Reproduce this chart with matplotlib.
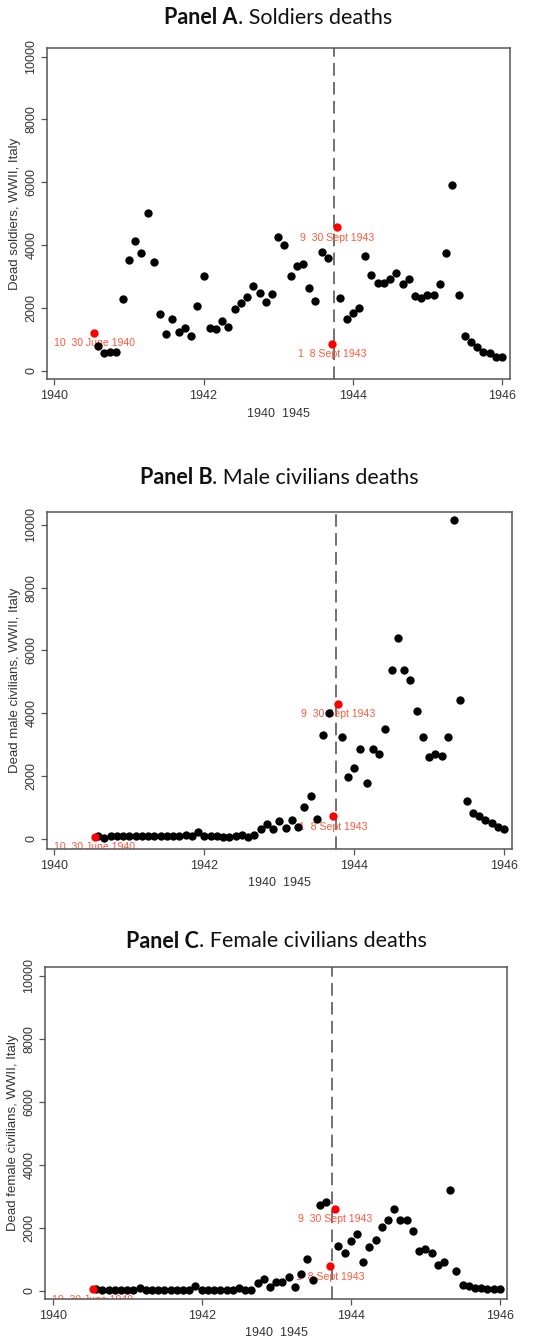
import matplotlib
matplotlib.use("Agg")
import matplotlib.pyplot as plt

W, H = 547, 1337
DPI = 100

# ---- data -------------------------------------------------------------
# month index: 1 = Jan 1940 ; plotted at x = 1940 + month/12
black_months = list(range(7, 45)) + list(range(46, 73))   # Jul 1940 .. Dec 1945 (Sept 1943 split, in red)
red_months = [6.43, 44.65, 45.45]                         # 10-30 June 1940, 1-8 Sept 1943, 9-30 Sept 1943
red_labels = ["10  30 June 1940", "1  8 Sept 1943", "9  30 Sept 1943"]

soldiers = [787, 564, 617, 617, 2288, 3543, 4128, 3756, 5011, 3469, 1819, 1170, 1638, 1234,
            1383, 1128, 2053, 3011, 1362, 1351, 1585, 1404, 1958, 2160, 2341, 2692, 2490, 2192,
            2447, 4267, 4022, 3032, 3341, 3415, 2628, 2213, 3777, 3607,
            2309, 1649, 1841, 2000, 3671, 3043, 2809, 2809, 2926, 3117, 2777, 2926, 2373, 2309,
            2415, 2415, 2766, 3745, 5916, 2405, 1107, 926, 755, 596, 575, 458, 436]
soldiers_red = [1224, 872, 4575]

male_civ = [80, 40, 90, 80, 90, 100, 100, 90, 90, 80, 90, 100, 100, 90, 140, 100, 210, 90,
            90, 80, 70, 60, 90, 110, 50, 110, 320, 470, 330, 576, 352, 608, 384, 1013, 1366,
            640, 3308, 4001,
            3254, 1985, 2273, 2870, 1771, 2870, 2710, 3489, 5388, 6400, 5367, 5047, 4065, 3233,
            2603, 2710, 2635, 3254, 10150, 4439, 1206, 811, 726, 598, 512, 384, 320]
male_civ_red = [75, 715, 4311]

female_civ = [40, 30, 10, 10, 10, 10, 20, 100, 20, 10, 10, 10, 20, 30, 30, 30, 150, 10, 10,
              10, 10, 10, 20, 80, 10, 10, 234, 372, 128, 266, 266, 447, 128, 532, 1000, 340,
              2734, 2809,
              1404, 1202, 1564, 1798, 915, 1394, 1617, 2032, 2234, 2607, 2245, 2245, 1883, 1266,
              1340, 1192, 830, 915, 3192, 638, 170, 149, 85, 74, 64, 53, 43]
female_civ_red = [43, 777, 2596]

panel_bold = ["Panel A", "Panel B", "Panel C"]
panel_rest = [". Soldiers deaths", ". Male civilians deaths", ". Female civilians deaths"]
ylabels = ["Dead soldiers, WWII, Italy", "Dead male civilians, WWII, Italy",
           "Dead female civilians, WWII, Italy"]
xlabel = "1940  1945"
xticks = [1940, 1942, 1944, 1946]
yticks = [0, 2000, 4000, 6000, 8000, 10000]
event_x = 1943.75

series = [(soldiers, soldiers_red), (male_civ, male_civ_red), (female_civ, female_civ_red)]

# ---- layout (pixel boxes: left, right, top, bottom) ----------------------
boxes = [(46.7, 509.5, 47.7, 379.3), (46.7, 511.7, 512.3, 849.0), (45.0, 507.3, 967.3, 1299.0)]
ylims = [(-264, 10280), (-320, 10400), (-263, 10267)]
title_y = [18, 478, 941]

plt.rcParams['font.family'] = ['Liberation Sans', 'DejaVu Sans']

fig = plt.figure(figsize=(W / DPI, H / DPI), dpi=DPI)
spine_col = "#555555"
tick_col = "#333333"
txt_red = "#ff5a3c"

for i, (blk, red) in enumerate(series):
    l, r, t, b = boxes[i]
    ax = fig.add_axes([l / W, 1 - b / H, (r - l) / W, (b - t) / H])
    xb = [1940 + m / 12 for m in black_months]
    xr = [1940 + m / 12 for m in red_months]
    ax.axvline(event_x, color="#666666", lw=1.3, ls=(0, (7, 3.5)), zorder=1)
    for xx, yy, lab in zip(xr, red, red_labels):
        ax.annotate(lab, (xx, yy), xytext=(0, -10.5), textcoords="offset pixels",
                    ha="center", va="center", fontsize=7.6, color=txt_red,
                    clip_on=True, zorder=2, annotation_clip=False)
    ax.scatter(xb, blk, s=36, color="black", linewidths=0, zorder=3)
    ax.scatter(xr, red, s=36, color="#ff0000", linewidths=0, zorder=4)
    ax.set_xlim(1939.898, 1946.1)
    ax.set_ylim(*ylims[i])
    ax.set_xticks(xticks)
    ax.set_xticklabels([str(v) for v in xticks])
    ax.set_yticks(yticks)
    ax.set_yticklabels([str(v) for v in yticks], rotation=90, va="center")
    ax.tick_params(axis="both", direction="out", length=4.3, width=0.9, color=spine_col,
                   labelcolor=tick_col, labelsize=9)
    ax.tick_params(axis="x", pad=3.5)
    ax.tick_params(axis="y", pad=2.5)
    for sp in ax.spines.values():
        sp.set_color(spine_col)
        sp.set_linewidth(1.1)
    ax.set_xlabel(xlabel, fontsize=9, color=tick_col, labelpad=4)
    ax.set_ylabel(ylabels[i], fontsize=9.5, color=tick_col, labelpad=3)

# titles with bold + regular parts, centred over the plot area
fig.canvas.draw()
renderer = fig.canvas.get_renderer()
for i in range(3):
    l, r, t, b = boxes[i]
    cx = (l + r) / 2 / W
    yy = 1 - title_y[i] / H
    t1 = fig.text(0, yy, panel_bold[i], fontsize=15.5, fontweight="bold",
                  family=["Lato", "DejaVu Sans"], va="center", ha="left", color="#111111")
    t2 = fig.text(0, yy, panel_rest[i], fontsize=15.5, family=["Lato", "DejaVu Sans"],
                  va="center", ha="left", color="#111111")
    w1 = t1.get_window_extent(renderer).width / W
    w2 = t2.get_window_extent(renderer).width / W
    x0 = cx - (w1 + w2) / 2
    t1.set_x(x0)
    t2.set_x(x0 + w1)

fig.savefig("out.png", dpi=DPI)
